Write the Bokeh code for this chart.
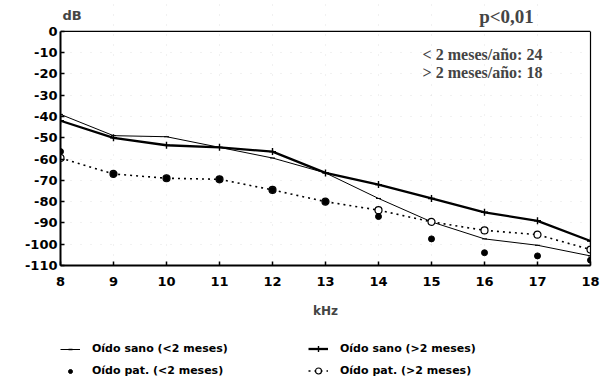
from bokeh.plotting import figure
from bokeh.layouts import column
from bokeh.models import Legend, LegendItem, Label, FixedTicker, LinearAxis, Span
from bokeh.embed import file_html
from bokeh.resources import INLINE

khz = [8, 9, 10, 11, 12, 13, 14, 15, 16, 17, 18]
sano_lt2 = [-39, -49, -49.5, -54.5, -59.5, -66.5, -78.5, -89.5, -97.5, -100.5, -105.5]
sano_gt2 = [-42, -50, -53.5, -54.5, -56.5, -66.5, -72, -78.5, -85, -89, -98.5]
pat_lt2 = [-56.5, -67, -69, -69.5, -74.5, -80, -87, -97.5, -104, -105.5, -107.5]
pat_gt2 = [-59.5, -67, -69, -69.5, -74.5, -80, -84, -89.5, -93.5, -95.5, -102.5]

y_ticks = [0, -10, -20, -30, -40, -50, -60, -70, -80, -90, -100, -110]
y_tick_labels = ["0", "-10", "-20", "-30", "-40", "-50", "-60", "-70", "-80", "-90", "-100", "-110"]
x_tick_labels = ["8", "9", "10", "11", "12", "13", "14", "15", "16", "17", "18"]

series_labels = ["Oído sano (<2 meses)", "Oído sano (>2 meses)",
                 "Oído pat. (<2 meses)", "Oído pat. (>2 meses)"]
title_text = "p<0,01"
note_lines = ["< 2 meses/año: 24", "> 2 meses/año: 18"]

SANS = "DejaVu Sans"
SERIF = "Liberation Serif"

p = figure(width=600, height=322, x_range=(8, 18), y_range=(-110, 14.5),
           output_backend="svg", toolbar_location=None,
           min_border_left=60, min_border_right=10,
           min_border_top=0, min_border_bottom=57)

p.outline_line_color = None
p.background_fill_color = "white"
p.border_fill_color = "white"

for ax in (p.xaxis, p.yaxis):
    ax.axis_line_width = 2
    ax.axis_line_color = "black"
    ax.major_tick_in = 4
    ax.major_tick_out = 0
    ax.minor_tick_line_color = None
    ax.major_tick_line_color = "black"
    ax.major_tick_line_width = 1.5
    ax.major_label_text_font = SANS
    ax.major_label_text_font_style = "bold"
    ax.major_label_text_font_size = "13px"
    ax.major_label_text_color = "black"

p.yaxis.bounds = (-110, 0)
p.yaxis.ticker = FixedTicker(ticks=y_ticks)
p.yaxis.major_label_overrides = {t: l for t, l in zip(y_ticks, y_tick_labels)}
p.yaxis.major_label_standoff = 3
p.xaxis.ticker = FixedTicker(ticks=khz)
p.xaxis.major_label_overrides = {t: l for t, l in zip(khz, x_tick_labels)}
p.xaxis.major_label_standoff = 11
p.xaxis.axis_label = "kHz"
p.xaxis.axis_label_text_font = SANS
p.xaxis.axis_label_text_font_style = "bold"
p.xaxis.axis_label_text_font_size = "12px"
p.xaxis.axis_label_standoff = 15

# right edge of the box
right_ax = LinearAxis(bounds=(-110, 0), axis_line_width=1.2, axis_line_color="black",
                      major_tick_line_color=None, minor_tick_line_color=None,
                      major_tick_in=0, major_tick_out=0, major_label_standoff=0,
                      major_label_text_font_size="0px", ticker=FixedTicker(ticks=[]))
p.add_layout(right_ax, "right")
# top edge of the box
p.add_layout(Span(location=0, dimension="width", line_color="black", line_width=1.2))

p.xgrid.bounds = (-110, 0)
p.grid.grid_line_color = "#d5d5d5"
p.grid.grid_line_dash = "1 9"
p.grid.grid_line_alpha = 0.7

r1 = p.line(khz, sano_lt2, line_color="black", line_width=1)
m1 = p.scatter(khz, sano_lt2, marker="dash", size=5, line_color="black", line_width=1)
r2 = p.line(khz, sano_gt2, line_color="black", line_width=2.3)
m2 = p.scatter(khz, sano_gt2, marker="cross", size=7, line_color="black", line_width=1.4)
r4 = p.line(khz, pat_gt2, line_color="black", line_width=1.6, line_dash="2 4")
m4 = p.scatter(khz, pat_gt2, marker="circle", size=7, fill_color="white",
               line_color="black", line_width=1.2)
m3 = p.scatter(khz, pat_lt2, marker="circle", size=6, fill_color="black",
               line_color="black")

p.add_layout(Label(x=8, y=0, x_offset=2, y_offset=16, text="dB",
                   text_font=SANS, text_font_style="bold", text_font_size="13px",
                   text_baseline="middle", text_align="left"))
p.add_layout(Label(x=18, y=0, x_offset=-84, y_offset=15, text=title_text,
                   text_font=SERIF, text_font_style="bold", text_font_size="19px",
                   text_baseline="middle", text_align="center"))
for i, line in enumerate(note_lines):
    p.add_layout(Label(x=18, y=0, x_offset=-108, y_offset=-23 - 18 * i, text=line,
                       text_font=SERIF, text_font_style="bold", text_font_size="16px",
                       text_baseline="middle", text_align="center"))

# legend strip below the chart: key renderers reuse the series, but lie
# outside this strip's ranges so only their legend keys show
q = figure(width=600, height=58, x_range=(0, 1), y_range=(0, 1),
           x_axis_type=None, y_axis_type=None, output_backend="svg",
           toolbar_location=None, min_border=0)
q.outline_line_color = None
q.grid.visible = False
k1 = q.line(khz, sano_lt2, line_color="black", line_width=1)
k1m = q.scatter(khz, sano_lt2, marker="dash", size=5, line_color="black", line_width=1.5)
k2 = q.line(khz, sano_gt2, line_color="black", line_width=2.3)
k2m = q.scatter(khz, sano_gt2, marker="cross", size=7, line_color="black", line_width=1.4)
k3 = q.scatter(khz, pat_lt2, marker="circle", size=5, fill_color="black", line_color="black")
k4 = q.line(khz, pat_gt2, line_color="black", line_width=1.6, line_dash="2 4")
k4m = q.scatter(khz, pat_gt2, marker="circle", size=7, fill_color="white",
                line_color="black", line_width=1.2)


def make_legend(items, x, gh):
    return Legend(items=items, location=(x, 1), orientation="vertical",
                  border_line_color=None, background_fill_alpha=0,
                  padding=0, spacing=5, margin=0,
                  glyph_width=20, glyph_height=gh, label_height=17,
                  label_standoff=12,
                  label_text_font=SANS, label_text_font_style="bold",
                  label_text_font_size="11px", label_text_color="black")


q.add_layout(make_legend([LegendItem(label=series_labels[0], renderers=[k1, k1m]),
                          LegendItem(label=series_labels[2], renderers=[k3])], 0, 10), "center")
q.add_layout(make_legend([LegendItem(label=series_labels[1], renderers=[k2, k2m]),
                          LegendItem(label=series_labels[3], renderers=[k4, k4m])], 248, 15), "center")

layout = column(p, q, spacing=0)
open("out.html", "w").write(file_html(layout, INLINE))
